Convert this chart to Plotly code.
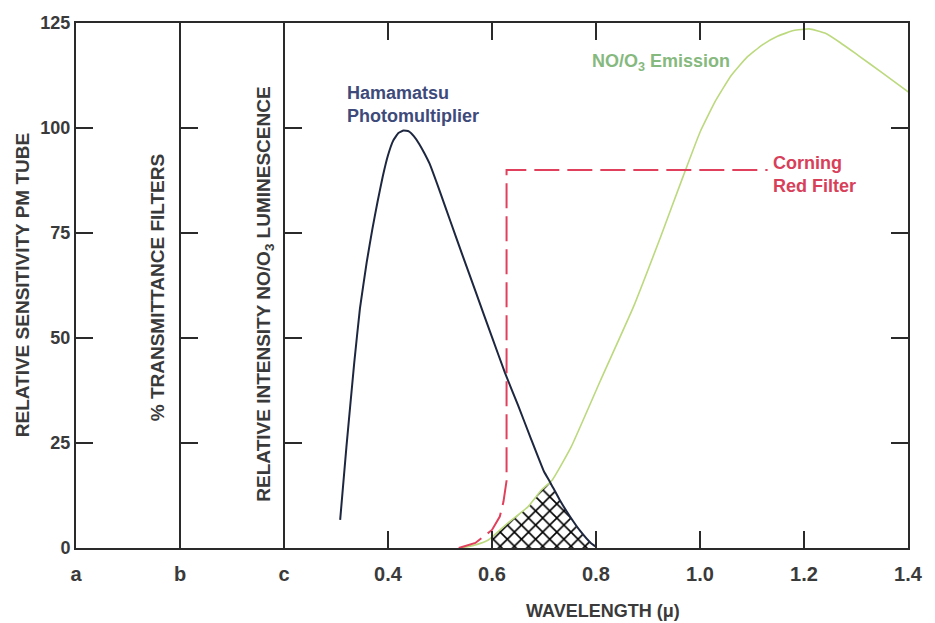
import plotly.graph_objects as go

# ---- data ----
tick_vals_x = [-0.2, 0.0, 0.2, 0.4, 0.6, 0.8, 1.0, 1.2, 1.4]
tick_text_x = ["a", "b", "c", "0.4", "0.6", "0.8", "1.0", "1.2", "1.4"]
tick_vals_y = [0, 25, 50, 75, 100, 125]
inner_ticks_y = [25, 50, 75, 100]

pm_x = [0.308, 0.32, 0.335, 0.346, 0.359, 0.37, 0.38, 0.39, 0.40, 0.41, 0.42, 0.43,
        0.44, 0.45, 0.46, 0.47, 0.48, 0.50, 0.52, 0.543, 0.568, 0.60, 0.625, 0.65, 0.675,
        0.70, 0.7125, 0.73, 0.75, 0.77, 0.79, 0.80]
pm_y = [6.7, 24, 44, 57, 68, 76, 82.5, 88.5, 93.5, 97, 98.8, 99.4,
        99.2, 98, 96.2, 94, 91.5, 84.8, 77.8, 69.8, 61.2, 50.2, 41.7, 34, 26,
        18.2, 15.5, 11.5, 7.5, 4, 1.2, 0.3]

em_x = [0.54, 0.57, 0.593, 0.631, 0.669, 0.695, 0.716, 0.752, 0.809, 0.872, 0.924, 0.967,
        1.0, 1.03, 1.06, 1.09, 1.12, 1.15, 1.18, 1.21, 1.24, 1.27, 1.304, 1.35, 1.405]
em_y = [0, 0.8, 1.9, 6, 9.8, 13.8, 16.2, 24, 40, 57.4, 74, 88.3,
        99, 106.5, 112.5, 116.8, 119.8, 121.9, 123.2, 123.6, 122.6, 120.3, 117.3, 113.2, 108.2]

filt_x = [0.536, 0.568, 0.60, 0.615, 0.622, 0.628, 0.628, 1.13]
filt_y = [0, 1.2, 4.3, 7.5, 11, 16, 90, 90]

hatch_x = [0.6, 0.6, 0.631, 0.669, 0.695, 0.7125, 0.73, 0.75, 0.77, 0.79, 0.80]
hatch_y = [0, 2.5, 6, 9.8, 13.8, 15.5, 11.5, 7.5, 4, 1.2, 0]

FONT = "Liberation Sans, Arial, sans-serif"
TXT = "#3a3a3a"
AX = "#2a2a2a"

fig = go.Figure()

fig.add_trace(go.Scatter(
    x=hatch_x, y=hatch_y, mode="lines", fill="toself",
    line=dict(width=0, color="rgba(0,0,0,0)"),
    fillcolor="rgba(0,0,0,0)",
    fillpattern=dict(shape="x", size=10, solidity=0.3, fgcolor="#000000", fgopacity=1,
                     bgcolor="rgba(255,255,255,0)"),
    hoverinfo="skip", showlegend=False))

fig.add_trace(go.Scatter(x=em_x, y=em_y, mode="lines",
                         line=dict(color="#bcd97e", width=1.6, shape="spline", smoothing=0.4),
                         showlegend=False))
fig.add_trace(go.Scatter(x=filt_x, y=filt_y, mode="lines",
                         line=dict(color="#e0405c", width=2, dash="25px,8px"),
                         showlegend=False))
fig.add_trace(go.Scatter(x=pm_x, y=pm_y, mode="lines",
                         line=dict(color="#1e2740", width=2, shape="spline", smoothing=0.3),
                         showlegend=False))
# empty traces to carry the b and c axes
fig.add_trace(go.Scatter(x=[], y=[], yaxis="y2", showlegend=False))
fig.add_trace(go.Scatter(x=[], y=[], yaxis="y3", showlegend=False))

tickfont = dict(family=FONT, size=20, color=TXT, weight="bold")

fig.update_layout(
    width=935, height=623,
    margin=dict(l=76, r=17, t=23, b=75),
    paper_bgcolor="white", plot_bgcolor="white",
    showlegend=False,
    xaxis=dict(range=[-0.2, 1.4], tickvals=tick_vals_x, ticktext=tick_text_x,
               ticks="inside", ticklen=17, tickwidth=2, tickcolor=AX,
               showline=True, linecolor=AX, linewidth=2, mirror="ticks",
               showgrid=False, zeroline=False, tickfont=tickfont,
               ticklabelstandoff=7, domain=[0, 1]),
    yaxis=dict(range=[0, 125], tickvals=tick_vals_y,
               ticks="inside", ticklen=17, tickwidth=2, tickcolor=AX,
               showline=True, linecolor=AX, linewidth=2, mirror="ticks",
               showgrid=False, zeroline=False,
               tickfont=dict(family=FONT, size=18, color=TXT, weight="bold")),
    yaxis2=dict(range=[0, 125], overlaying="y", anchor="free", position=0.125, side="right",
                tickvals=inner_ticks_y, ticks="outside", ticklen=17, tickwidth=2, tickcolor=AX,
                showticklabels=False, showline=True, linecolor=AX, linewidth=2,
                showgrid=False, zeroline=False),
    yaxis3=dict(range=[0, 125], overlaying="y", anchor="free", position=0.25, side="right",
                tickvals=inner_ticks_y, ticks="outside", ticklen=17, tickwidth=2, tickcolor=AX,
                showticklabels=False, showline=True, linecolor=AX, linewidth=2,
                showgrid=False, zeroline=False),
)

title_font = dict(family=FONT, size=19, color=TXT, weight="bold")
ann = [
    dict(text="RELATIVE SENSITIVITY PM TUBE", xref="paper", yref="paper", x=-0.064, y=0.5,
         textangle=-90, font=title_font, showarrow=False, xanchor="center", yanchor="middle"),
    dict(text="% TRANSMITTANCE FILTERS", xref="x", yref="paper", x=-0.044, y=0.495,
         textangle=-90, font=title_font, showarrow=False, xanchor="center", yanchor="middle"),
    dict(text="RELATIVE INTENSITY NO/O<sub>3</sub> LUMINESCENCE", xref="x", yref="paper",
         x=0.163, y=0.484, textangle=-90, font=title_font, showarrow=False,
         xanchor="center", yanchor="middle"),
    dict(text="WAVELENGTH (μ)", xref="x", yref="paper", x=0.813, y=-0.12,
         font=dict(family=FONT, size=18, color=TXT, weight="bold"), showarrow=False,
         xanchor="center", yanchor="middle"),
    dict(text="Hamamatsu<br>Photomultiplier", xref="x", yref="y", x=0.317, y=105.5,
         align="left", xanchor="left", yanchor="middle", showarrow=False,
         font=dict(family=FONT, size=18, color="#3d4a7a", weight="bold")),
    dict(text="NO/O<sub>3</sub> Emission", xref="x", yref="y", x=0.788, y=115.7,
         align="left", xanchor="left", yanchor="middle", showarrow=False,
         font=dict(family=FONT, size=18, color="#86b97e", weight="bold")),
    dict(text="Corning<br>Red Filter", xref="x", yref="y", x=1.137, y=89,
         align="left", xanchor="left", yanchor="middle", showarrow=False,
         font=dict(family=FONT, size=18, color="#d8405a", weight="bold")),
]
fig.update_layout(annotations=ann)

fig.write_html("out.html")
